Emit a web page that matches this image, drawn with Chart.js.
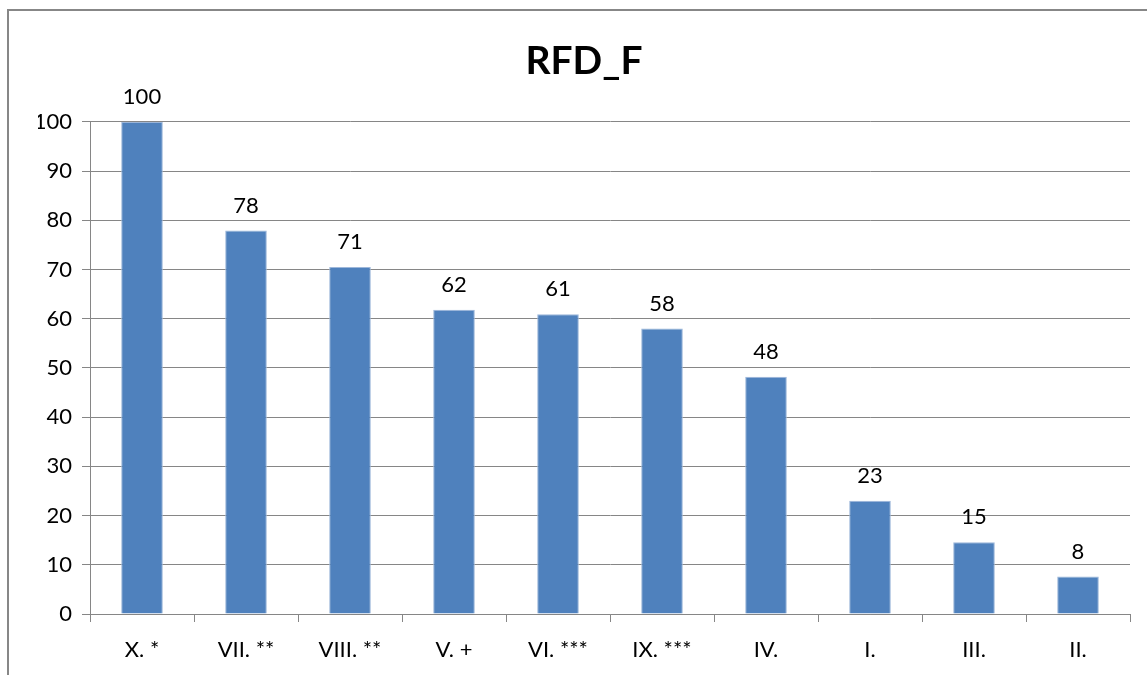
<!DOCTYPE html>
<html>
<head>
<meta charset="utf-8">
<script src="https://cdn.jsdelivr.net/npm/chart.js@4/dist/chart.umd.min.js"></script>
<style>
  html, body { margin: 0; padding: 0; background: #fff; overflow: hidden; }
  #frame {
    position: absolute; left: 7px; top: 9px;
    width: 1160px; height: 700px;
    border: 2px solid #878787;
    box-sizing: border-box;
  }
  #wrap { position: absolute; left: 8px; top: 10px; width: 1150px; height: 665px; }
</style>
</head>
<body>
<div id="frame"></div>
<div id="wrap"><canvas id="chart"></canvas></div>
<script>
// chart data
const categories = ['X. *', 'VII. **', 'VIII. **', 'V. +', 'VI. ***', 'IX. ***', 'IV.', 'I.', 'III.', 'II.'];
const rfdValues = [100, 77.9, 70.5, 61.8, 60.9, 58.0, 48.2, 23.0, 14.6, 7.6];
const yTicks = [0, 10, 20, 30, 40, 50, 60, 70, 80, 90, 100];

const FONT = 'Lato, "Open Sans", sans-serif';
const GRID = '#868686';

// draws the value above each bar
const valueLabels = {
  id: 'valueLabels',
  afterDatasetsDraw(chart) {
    const ctx = chart.ctx;
    const meta = chart.getDatasetMeta(0);
    ctx.save();
    ctx.font = '22px ' + FONT;
    ctx.fillStyle = '#000';
    ctx.textAlign = 'center';
    ctx.textBaseline = 'bottom';
    meta.data.forEach((bar, i) => {
      ctx.fillText(String(Math.round(rfdValues[i])), bar.x, bar.y - 14);
    });
    ctx.restore();
  }
};

const ctx = document.getElementById('chart').getContext('2d');
new Chart(ctx, {
  type: 'bar',
  data: {
    labels: categories,
    datasets: [{
      data: rfdValues,
      backgroundColor: '#4F81BD',
      borderColor: '#9DB7DA',
      borderWidth: 1,
      barPercentage: 0.4,
      categoryPercentage: 1.0,
    }]
  },
  options: {
    responsive: true,
    maintainAspectRatio: false,
    animation: false,
    // left/right padding keep the title centred on the whole frame
    layout: { padding: { left: 30, right: 28, top: 0, bottom: 0 } },
    plugins: {
      legend: { display: false },
      tooltip: { enabled: false },
      title: {
        display: true,
        text: 'RFD_F',
        color: '#000',
        font: { family: FONT, size: 39, weight: 'bold' },
        padding: { top: 28, bottom: 37 },
      },
    },
    scales: {
      x: {
        grid: {
          display: true,
          drawOnChartArea: false,
          drawTicks: true,
          tickLength: 8,
          color: GRID,
          offset: true,
        },
        border: { color: GRID, width: 1 },
        ticks: {
          color: '#000',
          font: { family: FONT, size: 22 },
          padding: 15,
          maxRotation: 0,
          autoSkip: false,
        },
        afterFit(scale) { scale.height = 61; },
      },
      y: {
        min: 0,
        max: 100,
        afterBuildTicks(scale) { scale.ticks = yTicks.map(v => ({ value: v })); },
        grid: {
          color: GRID,
          tickLength: 8,
        },
        border: { color: GRID, width: 1 },
        ticks: {
          color: '#000',
          font: { family: FONT, size: 22 },
          padding: 10,
        },
        afterFit(scale) { scale.width = 52; },
      },
    },
  },
  plugins: [valueLabels],
});
</script>
</body>
</html>
